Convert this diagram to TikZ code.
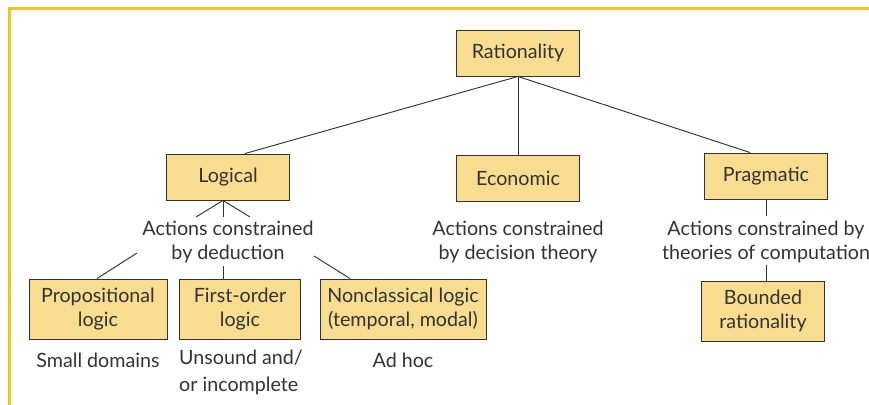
\documentclass[tikz,border=0pt]{standalone}
\usepackage{fontspec}
\setmainfont{Lato}
\usepackage{tikz}
\usetikzlibrary{calc}

\definecolor{boxfill}{HTML}{F8DC90}
\definecolor{framey}{HTML}{F5C518}
\definecolor{ink}{HTML}{333333}

\begin{document}
\begin{tikzpicture}[x=0.03cm,y=-0.03cm,
	box/.style={shape=rectangle,draw=ink,fill=boxfill,text=ink,line width=0.8pt,
		minimum height=1.38cm,align=center,inner sep=0pt,
		font=\fontsize{16.8}{20.8}\selectfont},
	tallbox/.style={box,minimum height=1.8cm},
	note/.style={text=ink,align=center,inner sep=0pt,
		font=\fontsize{16.8}{20.8}\selectfont},
	link/.style={draw=ink,line width=0.8pt}]

	\useasboundingbox (0,0) rectangle (869,405);
	% frame
	\draw[framey,line width=0.09cm] (869,9) -- (9,9) -- (9,405);

	% top row
	\node[box,minimum width=3.69cm] (rat) at (518, 53)  {Rationality};
	\node[box,minimum width=3.69cm] (log) at (228, 177) {Logical};
	\node[box,minimum width=3.69cm] (eco) at (518, 178) {Economic};
	\node[box,minimum width=3.69cm] (pra) at (766, 176) {Pragmatic};

	% descriptions
	\node[note] (dlog) at (228, 242) {Actions constrained\\by deduction};
	\node[note] (deco) at (518, 242) {Actions constrained\\by decision theory};
	\node[note] (dpra) at (766, 242) {Actions constrained by\\theories of computation};

	% bottom row
	\node[tallbox,minimum width=4.14cm] (pro) at (98, 309)  {Propositional\\logic};
	\node[tallbox,minimum width=3.63cm] (fo)  at (240, 309) {First-order\\logic};
	\node[tallbox,minimum width=4.98cm] (ncl) at (403, 309) {Nonclassical logic\\(temporal, modal)};
	\node[tallbox,minimum width=3.69cm] (bnd) at (763, 311) {Bounded\\rationality};

	\node[note] (spro) at (98, 360) {Small domains};
	\node[note,align=left,anchor=north west,
		font=\fontsize{16.8}{22.5}\selectfont] (sfo) at (179, 350) {Unsound and/\\or incomplete};
	\node[note] (sncl) at (403, 360) {Ad hoc};

	% free ends
	\coordinate (l1) at (196, 217);
	\coordinate (l2) at (223, 217);
	\coordinate (l3) at (250, 217);
	\coordinate (m1) at (137, 253);
	\coordinate (m2) at (223, 266);
	\coordinate (m3) at (314, 256);
	\coordinate (p1) at (766, 216);
	\coordinate (p2) at (766, 265);

	\path[link] (rat.south) edge ($(log.north)+(17,0)$);
	\path[link] (rat.south) edge (eco.north);
	\path[link] (rat.south) edge ($(pra.north)+(-16,0)$);

	\path[link] ($(log.south)+(-5,0)$) edge (l1);
	\path[link] ($(log.south)+(-5,0)$) edge (l2);
	\path[link] ($(log.south)+(-5,0)$) edge (l3);

	\path[link] (m1) edge ($(pro.north)+(-1,0)$);
	\path[link] (m2) edge ($(fo.north)+(-17,0)$);
	\path[link] (m3) edge ($(ncl.north)+(-53,0)$);

	\path[link] (pra.south) edge (p1);
	\path[link] (p2) edge ($(bnd.north)+(3,0)$);

\end{tikzpicture}
\end{document}
